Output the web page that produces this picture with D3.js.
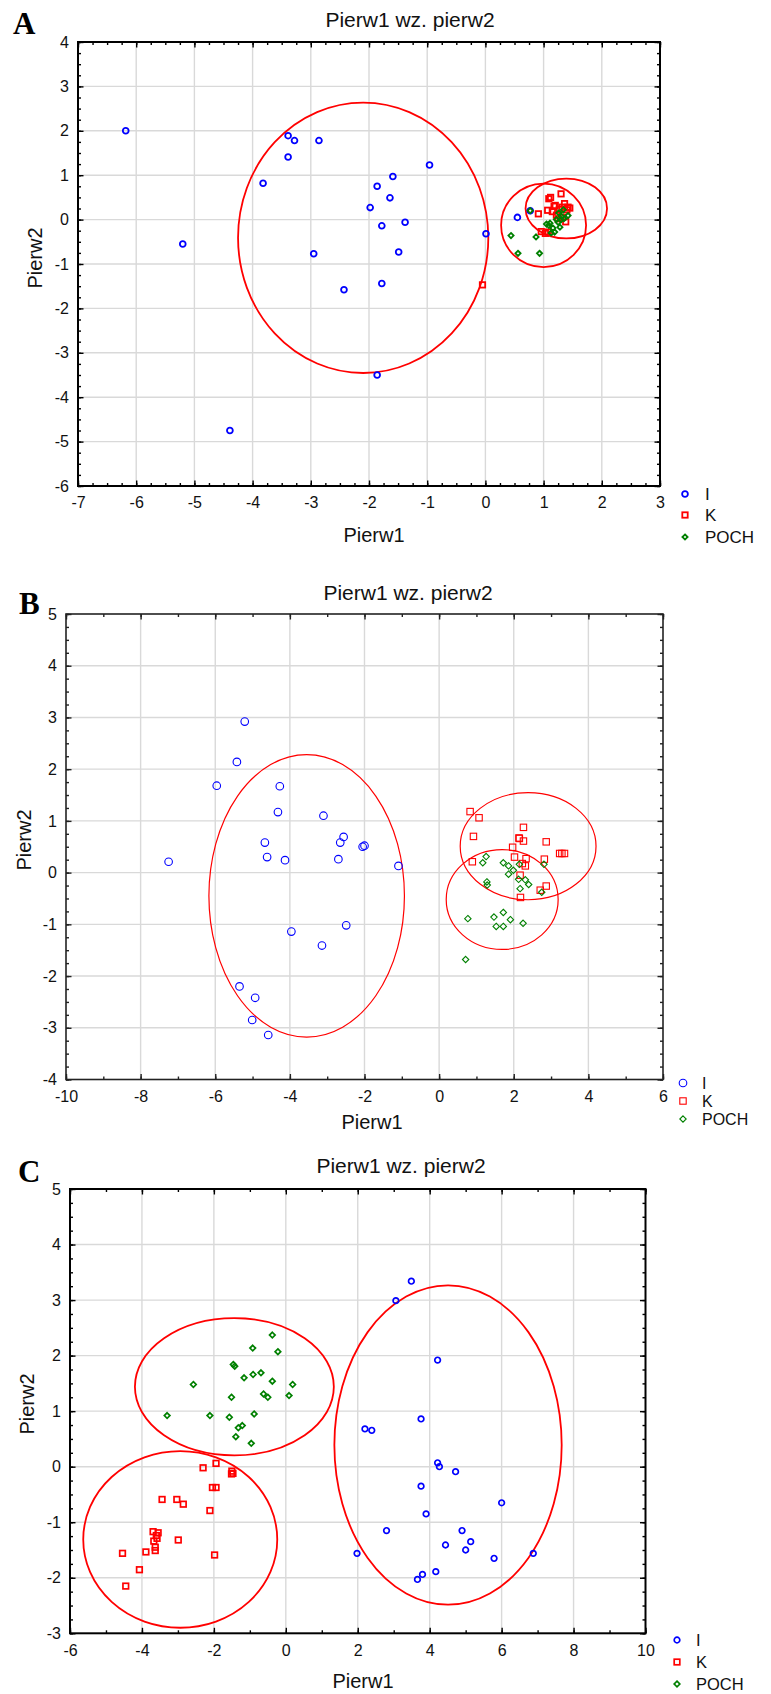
<!DOCTYPE html>
<html>
<head>
<meta charset="utf-8">
<script src="https://cdn.jsdelivr.net/npm/d3@7"></script>
<style>
  body { margin: 0; background: #fff; }
  svg { display: block; font-family: "Liberation Sans", Arial, sans-serif; }
</style>
</head>
<body>
<div id="chart-container"></div>
<script>
// ---- data ----
var groups = ["I", "K", "POCH"];

var aXTicks = [-7, -6, -5, -4, -3, -2, -1, 0, 1, 2, 3];
var aYTicks = [-6, -5, -4, -3, -2, -1, 0, 1, 2, 3, 4];
var aI = [[-6.18,2.0],[-3.39,1.89],[-3.28,1.78],[-2.86,1.78],[-3.39,1.41],[-3.82,0.82],[-0.96,1.23],[-1.59,0.97],[-1.86,0.75],[-1.64,0.49],[-1.98,0.27],[-1.78,-0.14],[-1.38,-0.06],[0.01,-0.32],[-2.95,-0.77],[-1.49,-0.73],[-2.43,-1.58],[-1.78,-1.44],[-5.2,-0.55],[-1.86,-3.5],[-4.39,-4.75],[0.55,0.05],[0.77,0.2]];
var aK = [[1.12,0.50],[1.09,0.47],[1.30,0.58],[0.91,0.13],[1.07,0.21],[1.36,0.36],[1.45,0.26],[1.40,0.22],[1.27,0.23],[1.18,0.30],[1.15,0.18],[1.22,0.10],[1.33,0.05],[1.38,-0.05],[1.25,0.02],[0.96,-0.27],[1.03,-0.31],[1.08,-0.28],[1.20,0.32],[1.32,0.28],[1.42,0.28],[-0.05,-1.47]];
var aPOCH = [[0.44,-0.36],[0.87,-0.39],[0.56,-0.76],[0.93,-0.76],[0.77,0.2],[1.11,-0.08],[1.13,-0.30],[1.19,-0.28],[1.28,-0.17],[1.22,0.0],[1.26,0.15],[1.34,0.22],[1.42,0.09],[1.30,0.0],[1.35,0.02],[1.16,-0.19],[1.09,-0.13],[1.31,0.07],[1.25,-0.06],[1.05,-0.10]];
// [cx, cy, rx, ry]
var aEll = [[-2.10,-0.41,2.15,3.045],[1.0,-0.13,0.73,0.94],[1.39,0.25,0.70,0.675]];

var bXTicks = [-10, -8, -6, -4, -2, 0, 2, 4, 6];
var bYTicks = [-4, -3, -2, -1, 0, 1, 2, 3, 4, 5];
var bI = [[-5.21,2.92],[-5.42,2.14],[-5.96,1.68],[-4.27,1.67],[-4.32,1.17],[-3.10,1.10],[-2.56,0.69],[-2.65,0.58],[-4.67,0.58],[-2.05,0.50],[-2.0,0.52],[-4.61,0.30],[-4.13,0.24],[-2.70,0.26],[-1.09,0.13],[-7.25,0.21],[-3.96,-1.14],[-2.49,-1.02],[-3.14,-1.41],[-5.35,-2.2],[-4.93,-2.42],[-5.01,-2.85],[-4.58,-3.14]];
var bK = [[0.83,1.18],[1.07,1.06],[0.92,0.70],[2.26,0.875],[2.15,0.66],[2.26,0.61],[2.14,0.67],[2.87,0.595],[1.97,0.49],[2.02,0.30],[2.33,0.27],[2.82,0.26],[3.23,0.37],[3.29,0.37],[3.36,0.37],[0.89,0.21],[2.23,0.175],[2.31,0.13],[2.17,-0.05],[2.87,-0.26],[2.71,-0.34],[2.18,-0.48]];
var bPOCH = [[1.26,0.31],[1.17,0.19],[1.72,0.19],[1.86,0.13],[1.86,-0.03],[1.99,0.045],[2.15,0.16],[2.81,0.16],[2.13,-0.13],[2.31,-0.14],[2.40,-0.23],[2.17,-0.31],[2.75,-0.38],[1.28,-0.18],[1.29,-0.24],[0.77,-0.89],[1.47,-0.86],[1.72,-0.77],[1.91,-0.91],[1.53,-1.04],[1.72,-1.04],[2.25,-0.98],[0.71,-1.68]];
var bEll = [[-3.55,-0.45,2.62,2.73],[2.385,0.51,1.82,1.035],[1.69,-0.52,1.50,0.966]];

var cXTicks = [-6, -4, -2, 0, 2, 4, 6, 8, 10];
var cYTicks = [-3, -2, -1, 0, 1, 2, 3, 4, 5];
var cI = [[3.49,3.34],[3.06,2.99],[4.22,1.92],[3.76,0.86],[2.20,0.68],[2.39,0.655],[4.22,0.07],[4.27,0.0],[4.72,-0.09],[3.76,-0.35],[6.0,-0.65],[3.90,-0.85],[2.80,-1.15],[4.90,-1.15],[5.14,-1.35],[4.44,-1.41],[5.0,-1.50],[1.98,-1.56],[6.88,-1.56],[5.79,-1.65],[4.17,-1.89],[3.80,-1.94],[3.66,-2.03]];
var cK = [[-4.54,-1.56],[-4.45,-2.15],[-4.07,-1.855],[-3.89,-1.535],[-3.63,-1.51],[-3.63,-1.45],[-3.67,-1.34],[-3.69,-1.17],[-3.60,-1.24],[-3.55,-1.19],[-3.58,-1.29],[-2.99,-1.32],[-3.44,-0.59],[-3.03,-0.59],[-2.85,-0.675],[-2.11,-0.79],[-1.98,-1.59],[-2.30,-0.02],[-1.94,0.06],[-2.04,-0.375],[-1.94,-0.375],[-1.50,-0.08],[-1.47,-0.12],[-1.51,-0.13]];
var cPOCH = [[-0.375,2.37],[-0.92,2.135],[-0.22,2.07],[-1.46,1.84],[-1.42,1.81],[-0.91,1.66],[-0.69,1.69],[-1.16,1.60],[-2.57,1.48],[0.19,1.48],[-0.375,1.54],[-1.51,1.25],[-0.62,1.31],[-0.50,1.25],[0.09,1.28],[-3.30,0.92],[-2.11,0.92],[-1.57,0.89],[-0.88,0.95],[-1.21,0.74],[-1.32,0.70],[-1.39,0.54],[-0.96,0.42]];
var cEll = [[-1.43,1.44,2.765,1.235],[-2.935,-1.31,2.697,1.59],[4.51,0.39,3.16,2.875]];

var colors = { I: "#0000ff", K: "#ff0000", POCH: "#008000" };

var svg = d3.select("#chart-container").append("svg")
  .attr("width", 771).attr("height", 1694);
svg.append("rect").attr("width", 771).attr("height", 1694).attr("fill", "#fff");

// layout of each panel (pixels)
var panels = [
  { letter: "A", xt: aXTicks, yt: aYTicks, xMinor: 0.25, yMinor: 0.25, pts: [aI, aK, aPOCH], ell: aEll,
    left: 78, right: 660, top: 42, bottom: 486, frame: 2, frameColor: "#000",
    title: [410, 27], xlab: [374, 542], ylab: [35, 258], let: [13, 34],
    leg: { mx: 685, tx: 705, rows: [494, 515, 537], fs: 17 },
    mk: { r: 2.9, sq: 5.4, dm: 2.6, sw: 1.8 }, ellW: 1.8 },
  { letter: "B", xt: bXTicks, yt: bYTicks, xMinor: 1, yMinor: 0.25, pts: [bI, bK, bPOCH], ell: bEll,
    left: 66, right: 663, top: 614, bottom: 1079.5, frame: 1.6, frameColor: "#222",
    title: [408, 600], xlab: [372, 1129], ylab: [24, 840], let: [19, 614],
    leg: { mx: 683, tx: 702, rows: [1083, 1101, 1119], fs: 16 },
    mk: { r: 3.8, sq: 6.4, dm: 3.2, sw: 1.1 }, ellW: 1.2 },
  { letter: "C", xt: cXTicks, yt: cYTicks, xMinor: 1, yMinor: 0.25, pts: [cI, cK, cPOCH], ell: cEll,
    left: 70, right: 645.5, top: 1189, bottom: 1633.3, frame: 2, frameColor: "#000",
    title: [401, 1173], xlab: [363, 1688], ylab: [27, 1404], let: [18, 1182],
    leg: { mx: 677, tx: 696, rows: [1640, 1662, 1684], fs: 16.5 },
    mk: { r: 2.8, sq: 5.6, dm: 2.8, sw: 1.7 }, ellW: 1.8 }
];

panels.forEach(drawPanel);

function marker(sel, g, m) {
  if (g == "I") {
    sel.append("circle").attr("r", m.r);
  } else if (g == "K") {
    sel.append("rect").attr("x", -m.sq / 2).attr("y", -m.sq / 2).attr("width", m.sq).attr("height", m.sq);
  } else {
    sel.append("path").attr("d", "M0," + (-m.dm) + "L" + m.dm + ",0L0," + m.dm + "L" + (-m.dm) + ",0Z");
  }
}

function makeAxis(side, x, y) {
  if (side == "bottom") return d3.axisBottom(x);
  if (side == "top") return d3.axisTop(x);
  if (side == "left") return d3.axisLeft(y);
  return d3.axisRight(y);
}

function drawPanel(p) {
  var xd = d3.extent(p.xt), yd = d3.extent(p.yt);
  var x = d3.scaleLinear().domain(xd).range([p.left, p.right]);
  var y = d3.scaleLinear().domain(yd).range([p.bottom, p.top]);
  var g = svg.append("g").attr("class", "panel " + p.letter);

  // grid
  g.append("g").selectAll("line").data(p.xt.slice(1, -1)).enter().append("line")
    .attr("x1", function (d) { return x(d); }).attr("x2", function (d) { return x(d); })
    .attr("y1", p.top).attr("y2", p.bottom)
    .style("stroke", "#d9d9d9").style("stroke-width", 1.4);
  g.append("g").selectAll("line").data(p.yt.slice(1, -1)).enter().append("line")
    .attr("y1", function (d) { return y(d); }).attr("y2", function (d) { return y(d); })
    .attr("x1", p.left).attr("x2", p.right)
    .style("stroke", "#d9d9d9").style("stroke-width", 1.4);

  // inside ticks on all four sides, labels only bottom + left
  var xMin = d3.range(xd[0], xd[1] + 1e-9, p.xMinor);
  var yMin = d3.range(yd[0], yd[1] + 1e-9, p.yMinor);
  var sides = [
    ["bottom", "translate(0," + p.bottom + ")", true],
    ["top", "translate(0," + p.top + ")", false],
    ["left", "translate(" + p.left + ",0)", true],
    ["right", "translate(" + p.right + ",0)", false]
  ];
  sides.forEach(function (s) {
    var horiz = s[0] == "bottom" || s[0] == "top";
    var axMin = makeAxis(s[0], x, y)
      .tickValues(horiz ? xMin : yMin).tickSizeInner(-3).tickSizeOuter(0).tickFormat("");
    var ax = makeAxis(s[0], x, y)
      .tickValues(horiz ? p.xt : p.yt).tickSizeInner(-5.5).tickSizeOuter(0)
      .tickPadding(horiz ? 11 : 9).tickFormat(s[2] ? d3.format("d") : "");
    var gm = g.append("g").attr("transform", s[1]).call(axMin);
    var ga = g.append("g").attr("transform", s[1]).call(ax);
    [gm, ga].forEach(function (sel) {
      sel.select(".domain").remove();
      sel.selectAll("line").style("stroke", p.frameColor).style("stroke-width", 1.4);
    });
    ga.selectAll("text").style("font-size", "16px").style("fill", "#111")
      .style("font-family", "'Liberation Sans', Arial, sans-serif")
      .text(function (d) { return s[2] ? String(d) : ""; });
  });

  // frame
  g.append("rect").attr("x", p.left).attr("y", p.top)
    .attr("width", p.right - p.left).attr("height", p.bottom - p.top)
    .style("fill", "none").style("stroke", p.frameColor).style("stroke-width", p.frame);

  // ellipses
  g.append("g").selectAll("ellipse").data(p.ell).enter().append("ellipse")
    .attr("cx", function (d) { return x(d[0]); })
    .attr("cy", function (d) { return y(d[1]); })
    .attr("rx", function (d) { return x(d[0] + d[2]) - x(d[0]); })
    .attr("ry", function (d) { return y(d[1]) - y(d[1] + d[3]); })
    .style("fill", "none").style("stroke", "#ff0000").style("stroke-width", p.ellW);

  // points
  groups.forEach(function (grp, gi) {
    g.append("g").attr("class", "pts " + grp)
      .selectAll("g").data(p.pts[gi]).enter().append("g")
      .attr("transform", function (d) { return "translate(" + x(d[0]) + "," + y(d[1]) + ")"; })
      .each(function () { marker(d3.select(this), grp, p.mk); })
      .selectAll("*")
      .style("fill", "none").style("stroke", colors[grp]).style("stroke-width", p.mk.sw);
  });

  // legend
  groups.forEach(function (grp, gi) {
    var lg = g.append("g").attr("transform", "translate(" + p.leg.mx + "," + p.leg.rows[gi] + ")");
    marker(lg, grp, p.mk);
    lg.selectAll("*").style("fill", "none").style("stroke", colors[grp]).style("stroke-width", p.mk.sw);
    g.append("text").attr("x", p.leg.tx).attr("y", p.leg.rows[gi] + 6)
      .style("font-size", p.leg.fs + "px").style("fill", "#111").text(grp);
  });

  // titles
  g.append("text").attr("x", p.title[0]).attr("y", p.title[1]).attr("text-anchor", "middle")
    .style("font-size", "21px").style("fill", "#111").text("Pierw1 wz. pierw2");
  g.append("text").attr("x", p.xlab[0]).attr("y", p.xlab[1]).attr("text-anchor", "middle")
    .style("font-size", "20px").style("fill", "#111").text("Pierw1");
  g.append("text").attr("transform", "translate(" + p.ylab[0] + "," + p.ylab[1] + ") rotate(-90)")
    .attr("text-anchor", "middle").attr("dy", "0.35em")
    .style("font-size", "20px").style("fill", "#111").text("Pierw2");
  g.append("text").attr("x", p.let[0]).attr("y", p.let[1])
    .style("font-family", "'Liberation Serif', 'Times New Roman', serif")
    .style("font-weight", "bold").style("font-size", "31px").style("fill", "#000").text(p.letter);
}
</script>
</body>
</html>
